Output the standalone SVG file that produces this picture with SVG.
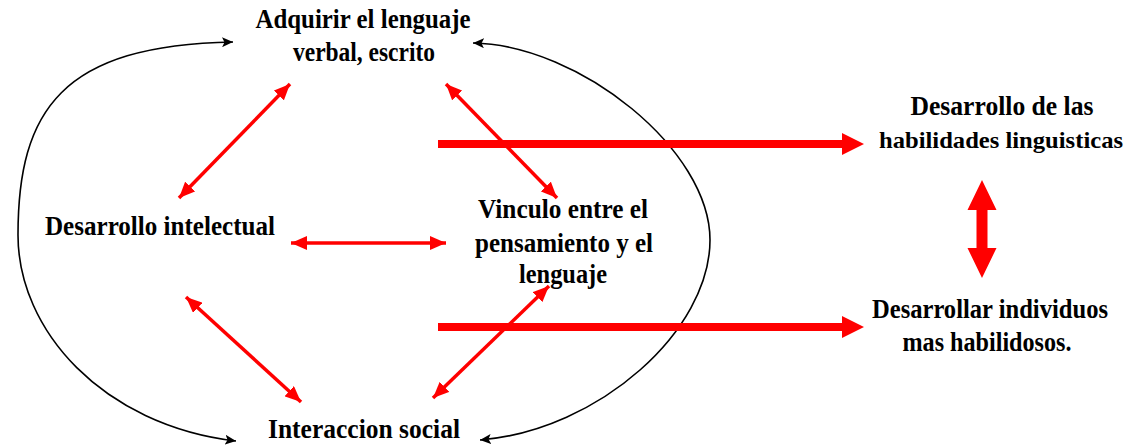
<svg xmlns="http://www.w3.org/2000/svg" width="1135" height="448" viewBox="0 0 1135 448">
<style>
.t{font-family:"Liberation Serif","Times New Roman",serif;font-weight:bold;font-size:27px;fill:#000;text-anchor:middle}
.arc{fill:none;stroke:#000;stroke-width:1.6;marker-start:url(#bk);marker-end:url(#bk)}
.thin{stroke:#ff0000;stroke-width:3.5;fill:none;marker-start:url(#rd);marker-end:url(#rd)}
.big{fill:#ff0000}
</style>
<defs>
<marker id="bk" markerUnits="userSpaceOnUse" markerWidth="12" markerHeight="10" refX="11" refY="5" orient="auto-start-reverse">
<path d="M0,0 L11,5 L0,10 L2.5,5 z" fill="#000"/>
</marker>
<marker id="rd" markerUnits="userSpaceOnUse" markerWidth="17" markerHeight="14" refX="16" refY="7" orient="auto-start-reverse">
<path d="M0,0 L16,7 L0,14 z" fill="#ff0000"/>
</marker>
</defs>
<rect width="1135" height="448" fill="#fff"/>
<g id="connectors">
<path class="arc" d="M233,42 C62,45 18,110 18,235 C18,330 102,425 236,441"/>
<path class="arc" d="M473,43 C580,45 710,150 710,240 C710,330 600,430 480,440"/>
<line class="thin" x1="290" y1="84" x2="179" y2="198"/>
<line class="thin" x1="446" y1="84" x2="557" y2="198"/>
<line class="thin" x1="291" y1="243" x2="446" y2="243"/>
<line class="thin" x1="186" y1="297" x2="301" y2="402"/>
<line class="thin" x1="549" y1="286" x2="433" y2="398"/>
<polygon class="big" points="438,140 842,140 842,133 864,144 842,155 842,148 438,148"/>
<polygon class="big" points="438,323 842,323 842,316 864,327 842,338 842,331 438,331"/>
<polygon class="big" points="982,180 996.5,210 987.5,210 987.5,248 996.5,248 982,278 967.5,248 976.5,248 976.5,210 967.5,210"/>
</g>
<g id="adquirir">
<text class="t" x="363" y="28" textLength="215" lengthAdjust="spacingAndGlyphs">Adquirir  el lenguaje</text>
<text class="t" x="364" y="61" textLength="142" lengthAdjust="spacingAndGlyphs">verbal, escrito</text>
</g>
<g id="desarrollo-intelectual">
<text class="t" x="160" y="235" textLength="230" lengthAdjust="spacingAndGlyphs">Desarrollo  intelectual</text>
</g>
<g id="vinculo">
<text class="t" x="563" y="218" textLength="170" lengthAdjust="spacingAndGlyphs">Vinculo  entre el</text>
<text class="t" x="564" y="252" textLength="178" lengthAdjust="spacingAndGlyphs">pensamiento y el</text>
<text class="t" x="563" y="283" textLength="88" lengthAdjust="spacingAndGlyphs">lenguaje</text>
</g>
<g id="interaccion">
<text class="t" x="364" y="438" textLength="192" lengthAdjust="spacingAndGlyphs">Interaccion  social</text>
</g>
<g id="habilidades-linguisticas">
<text class="t" x="1002" y="115" textLength="183" lengthAdjust="spacingAndGlyphs">Desarrollo  de las</text>
<text class="t" x="1001" y="148" style="font-size:24px" textLength="244" lengthAdjust="spacingAndGlyphs">habilidades linguisticas</text>
</g>
<g id="individuos">
<text class="t" x="990" y="318" textLength="236" lengthAdjust="spacingAndGlyphs">Desarrollar  individuos</text>
<text class="t" x="987" y="351" textLength="169" lengthAdjust="spacingAndGlyphs">mas habilidosos.</text>
</g>
</svg>
